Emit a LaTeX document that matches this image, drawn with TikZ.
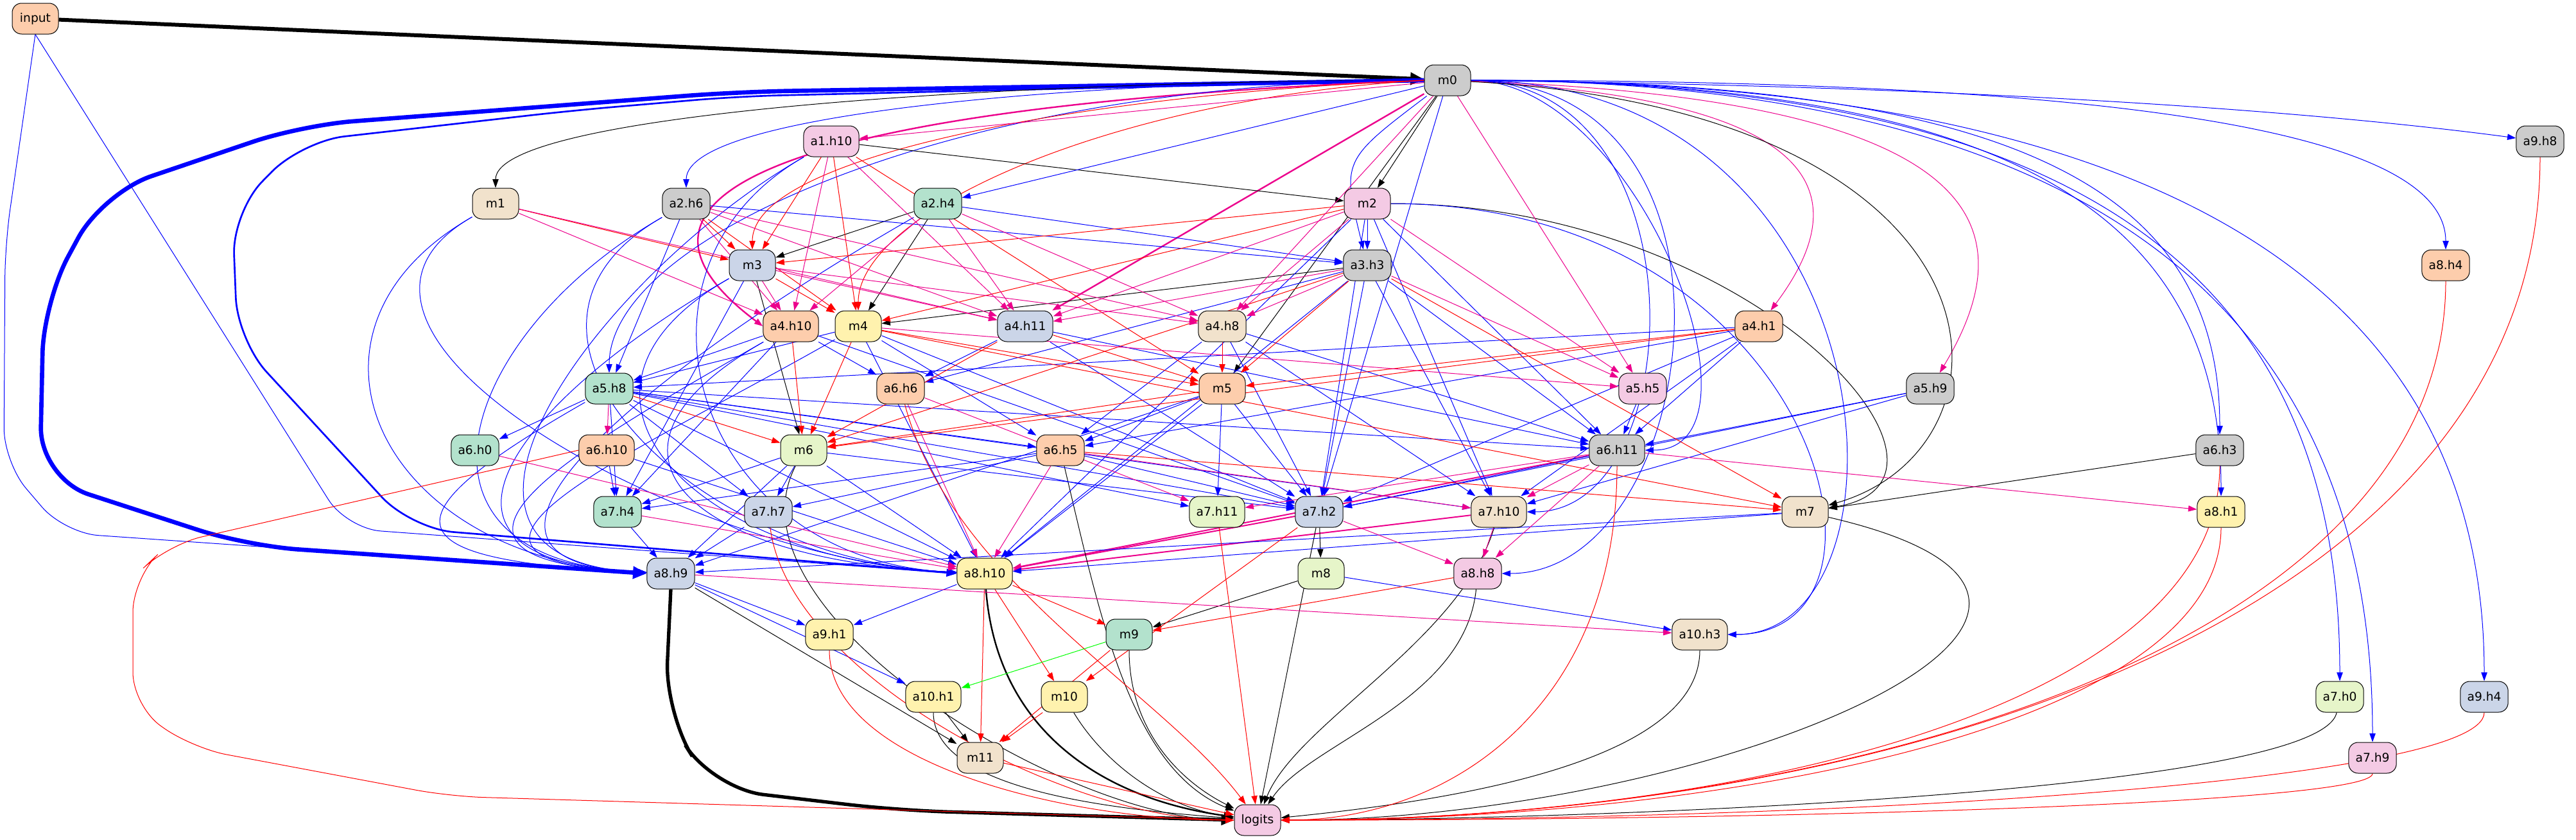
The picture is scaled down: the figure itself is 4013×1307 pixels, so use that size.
\documentclass[tikz,border=0pt]{standalone}
\usepackage{fontspec}
\setmainfont{DejaVu Sans}
\usepackage{xcolor}
\usepackage{tikz}
\usetikzlibrary{arrows.meta, backgrounds}

\definecolor{pgreen}{HTML}{B3E2CD}
\definecolor{ppeach}{HTML}{FDCDAC}
\definecolor{pblue}{HTML}{CBD5E8}
\definecolor{ppink}{HTML}{F4CAE4}
\definecolor{plime}{HTML}{E6F5C9}
\definecolor{pyellow}{HTML}{FFF2AE}
\definecolor{ptan}{HTML}{F1E2CC}
\definecolor{pgrey}{HTML}{CCCCCC}

\begin{document}
\begin{tikzpicture}[
  x=0.75pt, y=-0.75pt,
  hd/.style={rectangle, draw, rounded corners=11pt, minimum width=54pt, minimum height=36pt, inner xsep=8pt, line width=0.75pt, font=\fontsize{14}{16}\selectfont},
  hgreen/.style={hd, fill=pgreen},
  hpeach/.style={hd, fill=ppeach},
  hblue/.style={hd, fill=pblue},
  hpink/.style={hd, fill=ppink},
  hlime/.style={hd, fill=plime},
  hyellow/.style={hd, fill=pyellow},
  htan/.style={hd, fill=ptan},
  hgrey/.style={hd, fill=pgrey},
  arr/.style={-{Triangle[length=10pt,width=7pt]}, line width=0.75pt},
  eK/.style={arr, black},
  eB/.style={arr, blue},
  eR/.style={arr, red},
  eM/.style={arr, magenta},
  eG/.style={arr, green},
]
  \useasboundingbox (0,0) rectangle (4013,1307);

  % Top of the circuit
  \node[hpeach] (input) at (55,29) {input};
  \node[hgrey] (m0) at (2255,125) {m0};
  \node[hpink] (a1h10) at (1295,220) {a1.h10};
  \node[hgrey] (a9h8) at (3957,220) {a9.h8};
  \node[htan] (m1) at (772,317) {m1};
  \node[hgrey] (a2h6) at (1069,317) {a2.h6};
  \node[hgreen] (a2h4) at (1461,317) {a2.h4};
  \node[hpink] (m2) at (2130,317) {m2};
  \node[hblue] (m3) at (1172,413) {m3};
  \node[hgrey] (a3h3) at (2130,413) {a3.h3};
  \node[hpeach] (a8h4) at (3810,413) {a8.h4};

  % Middle layers
  \node[hpeach] (a4h10) at (1232,508) {a4.h10};
  \node[hyellow] (m4) at (1337,508) {m4};
  \node[hblue] (a4h11) at (1597,508) {a4.h11};
  \node[htan] (a4h8) at (1904,508) {a4.h8};
  \node[hpeach] (a4h1) at (2740,508) {a4.h1};
  \node[hgreen] (a5h8) at (949,605) {a5.h8};
  \node[hpeach] (a6h6) at (1403,605) {a6.h6};
  \node[hpeach] (m5) at (1904,605) {m5};
  \node[hpink] (a5h5) at (2559,605) {a5.h5};
  \node[hgrey] (a5h9) at (3007,605) {a5.h9};
  \node[hgreen] (a6h0) at (740,701) {a6.h0};
  \node[hpeach] (a6h10) at (945,701) {a6.h10};
  \node[hlime] (m6) at (1252,701) {m6};
  \node[hpeach] (a6h5) at (1652,701) {a6.h5};
  \node[hgrey] (a6h11) at (2519,701) {a6.h11};
  \node[hgrey] (a6h3) at (3458,701) {a6.h3};
  \node[hgreen] (a7h4) at (962,797) {a7.h4};
  \node[hblue] (a7h7) at (1197,797) {a7.h7};
  \node[hlime] (a7h11) at (1896,797) {a7.h11};
  \node[hblue] (a7h2) at (2055,797) {a7.h2};
  \node[htan] (a7h10) at (2335,797) {a7.h10};
  \node[htan] (m7) at (2812,797) {m7};
  \node[hyellow] (a8h1) at (3460,797) {a8.h1};

  % Late layers
  \node[hblue] (a8h9) at (1045,893) {a8.h9};
  \node[hyellow] (a8h10) at (1534,893) {a8.h10};
  \node[hlime] (m8) at (2058,893) {m8};
  \node[hpink] (a8h8) at (2302,893) {a8.h8};
  \node[hyellow] (a9h1) at (1292,988) {a9.h1};
  \node[hgreen] (m9) at (1759,988) {m9};
  \node[htan] (a10h3) at (2648,988) {a10.h3};
  \node[hyellow] (a10h1) at (1454,1085) {a10.h1};
  \node[hyellow] (m10) at (1658,1085) {m10};
  \node[hlime] (a7h0) at (3645,1085) {a7.h0};
  \node[hblue] (a9h4) at (3870,1085) {a9.h4};
  \node[htan] (m11) at (1527,1180) {m11};
  \node[hpink] (a7h9) at (3696,1180) {a7.h9};
  \node[hpink] (logits) at (1959,1277) {logits};

  \begin{scope}[on background layer]
  % Heavy paths
  \draw[eK, line width=4.5pt, -{Triangle[length=16pt,width=14pt]}] (input) -- (m0);
  \draw[eB, line width=5pt, -{Triangle[length=16pt,width=14pt]}, rounded corners=60pt]
    (m0.west) -- (1150,143) -- (470,195) -- (160,300) -- (68,470) -- (62,745) -- (385,850) -- (a8h9.west);
  \draw[eB, line width=2pt, -{Triangle[length=12pt,width=9pt]}, rounded corners=50pt]
    (m0.west) -- (1150,150) -- (893,172) -- (470,220) -- (362,330) -- (370,530) -- (640,823) -- (a8h10.west);
  \draw[eK, line width=4pt, -{Triangle[length=15pt,width=12pt]}, rounded corners=60pt]
    (a8h9.south) -- (1036,1110) -- (1110,1228) -- (1400,1262) -- (logits.west);
  \draw[eK, line width=1.8pt, -{Triangle[length=12pt,width=9pt]}] (a8h10) .. controls +(20,260) and +(-220,-30) .. (logits);
  \draw[eM, line width=1.8pt] (m0.west) .. controls (1100,170) and (950,330) .. (a4h10.west);
  \draw[eM, line width=1.8pt] (m0) -- (a4h11);
  \foreach \s in {a6h11, a7h10, a7h2} {
    \draw[eM, line width=1.5pt] (\s) -- (a8h10);
  }

  % From input
  \draw[eB, rounded corners=40pt] (input.south) -- (8,380) -- (6,720) -- (100,830) -- (a8h9.west);
  \draw[eB, rounded corners=40pt] (input.south) -- (540,823) -- (a8h10.west);

  % Fan out of m0
  \draw[eK] (m0.west) .. controls +(-600,0) and +(0,-120) .. (m1.north);
  \draw[eB] (m0.west) .. controls +(-500,0) and +(0,-120) .. (a2h6.north);
  \draw[eB] (m0.west) .. controls +(-700,0) and +(0,-220) .. (a5h8.north);
  \draw[eR] (m0.west) .. controls +(-500,20) and +(0,-150) .. (m3.north);
  \draw[eR] (m0.west) .. controls +(-500,30) and +(0,-150) .. (m4.north);
  \draw[eB] (m0) .. controls (2090,250) .. (a3h3);
  \draw[eB] (m0) .. controls +(900,10) and +(-300,-40) .. (a9h8);
  \draw[eM] (m0) .. controls +(600,30) and +(150,-200) .. (a4h1);
  \draw[eM] (m0) .. controls +(850,30) and +(150,-250) .. (a5h9);
  \foreach \t/\dx/\dy in {a8h4/1100/200, a6h3/900/400, a8h1/900/450, a7h0/1000/650, a7h9/1000/700, a9h4/1100/650} {
    \draw[eB] (m0) .. controls +(\dx,0) and +(0,-\dy) .. (\t);
  }
  \foreach \t/\dx/\dd in {a6h11/300/250, a7h10/400/300, a8h8/500/350, a10h3/700/350} {
    \draw[eB] (m0) .. controls +(\dx,0) and +(\dd,0) .. (\t);
  }
  \draw[eK] (m0) .. controls +(900,50) and +(350,-100) .. (m7);
  \draw[eK] (m2) .. controls +(600,0) and +(300,-50) .. (m7);
  \draw[eB] (m2) .. controls +(700,0) and +(350,0) .. (a10h3);

  % Black edges
  \foreach \s/\t in {m0/m2, m0/m5, a1h10/m2, a2h4/m3, a2h4/m4, a3h3/m4, m3/m6, a6h3/m7,
                     a7h2/m8, m8/m9, a10h1/m11, a8h9/m11, a7h2/logits} {
    \draw[eK] (\s) -- (\t);
  }
  \draw[eK] (m6) .. controls +(-130,250) and +(-300,0) .. (logits);
  \draw[eK] (a6h5) .. controls +(60,250) and +(-200,-80) .. (logits);
  \draw[eK] (a7h10) .. controls +(-60,200) and +(60,-150) .. (logits);
  \draw[eK] (m10) .. controls +(60,100) and +(-150,-20) .. (logits);
  \draw[eK] (m9) .. controls +(0,150) and +(-120,-60) .. (logits);
  \draw[eK] (a10h1) .. controls +(0,150) and +(-200,-15) .. (logits);
  \draw[eK] (a8h8) .. controls +(-20,200) and +(80,-120) .. (logits);
  \draw[eK] (a10h3) .. controls +(0,200) and +(300,-30) .. (logits);
  \draw[eK] (a7h0) .. controls +(-30,150) and +(500,0) .. (logits);
  \draw[eK] (m7) .. controls +(650,150) and +(700,0) .. (logits);

  % Blue edges
  \foreach \s/\t in {m0/a2h4, m0/a7h2, m2/a3h3, m2/a6h11, m2/a7h2, m2/a7h10, m2/a8h10,
                     a2h4/a3h3, a2h6/a3h3, a2h6/a5h8, m3/a7h4,
                     a4h10/a5h8, a4h10/a6h6, a4h10/a7h4, a4h10/a7h2,
                     m4/a5h8, m4/a6h5, m4/a7h2, m4/a8h10,
                     a4h11/a6h6, a4h11/a6h11, a4h11/a7h2,
                     a4h8/a6h5, a4h8/a6h11, a4h8/a7h2, a4h8/a7h10,
                     a3h3/a6h6, a3h3/a6h11, a3h3/a7h2, a3h3/a7h10, a3h3/a8h10,
                     a4h1/a5h8, a4h1/a6h5, a4h1/a6h11, a4h1/a7h2, a4h1/a7h10,
                     m5/a6h5, m5/a7h11, m5/a7h2, m5/a8h9, m5/a8h10,
                     a5h5/a6h11, a5h9/a6h11, a5h9/a7h2, a5h9/a7h10,
                     a5h8/a6h0, a5h8/a6h5, a5h8/a7h4, a5h8/a7h7, a5h8/a7h11, a5h8/a7h2,
                     a5h8/a7h10, a5h8/a6h11, a5h8/a8h10,
                     a6h10/a7h4, a6h10/a8h10, m6/a7h4, m6/a7h7, m6/a8h9, m6/a8h10, m6/a7h2,
                     a6h5/a7h4, a6h5/a7h7, a6h5/a7h2, a6h11/a7h2,
                     a7h4/a8h9, a7h7/a8h9, m7/a8h9, m7/a8h10,
                     a8h9/a9h1, a8h9/a10h1, a8h10/a9h1, m8/a10h3} {
    \draw[eB] (\s) -- (\t);
  }
  \foreach \s/\t in {a1h10/a8h9, a1h10/a8h10, m1/a8h9, m1/a8h10, a2h6/a8h9, a2h6/a8h10,
                     m3/a8h9, m3/a8h10, a2h4/a8h9, a4h10/a8h9, a4h10/a8h10, m4/a8h9, a5h8/a8h9} {
    \draw[eB] (\s) .. controls +(-350,200) and +(-450,-20) .. (\t);
  }

  % Red edges
  \foreach \s/\t in {a1h10/m3, a1h10/m4, a1h10/m5, m1/m3, a2h6/m3, a2h6/m4, m2/m3, m2/m4, m3/m4,
                     a4h10/m6, m4/m5, m4/m6, m4/m7, a4h11/m5, a4h11/m6, a4h8/m5,
                     a3h3/m5, a3h3/m6, a3h3/m7, a4h1/m5, a4h1/m6, a5h8/m6, m5/m6, a6h5/m7,
                     a8h10/m9, a8h10/m10, a8h10/m11, a8h8/m9, a7h2/m10, m9/m11, m10/m11,
                     a7h11/logits, m11/logits} {
    \draw[eR] (\s) -- (\t);
  }
  \draw[eR, rounded corners=40pt] (a6h10.west) -- (262,848) -- (207,900) -- (207,1100) -- (300,1165) -- (700,1240) -- (logits.west);
  \draw[eR] (a6h6) .. controls +(80,300) and +(-150,-200) .. (logits);
  \draw[eR] (a7h7) .. controls +(30,250) and +(-300,0) .. (logits);
  \draw[eR] (a9h1) .. controls +(0,200) and +(-300,0) .. (logits);
  \foreach \s/\dy/\dx in {a6h11/400/300, a6h3/400/750, a8h1/330/750, a7h9/70/850, a9h4/130/950, a8h4/600/900, a9h8/740/1000} {
    \draw[eR] (\s) .. controls +(0,\dy) and +(\dx,0) .. (logits);
  }

  % Magenta edges
  \foreach \s/\t in {m0/a1h10, m0/a4h8, m0/a5h5,
                     m1/a4h10, m1/a4h11, a1h10/a4h10, a1h10/a4h11,
                     a2h6/a4h10, a2h6/a4h11, a2h6/a4h8, a2h4/a4h10, a2h4/a4h11, a2h4/a4h8,
                     m3/a4h10, m3/a4h11, m3/a4h8, m2/a4h11, m2/a4h8, m2/a5h5,
                     a3h3/a4h11, a3h3/a4h8, a3h3/a5h5, m4/a5h5, a5h8/a6h10,
                     a6h6/a7h11, a6h6/a8h10, a6h11/a7h11, a6h11/a7h10, a6h11/a8h8, a6h11/a8h1,
                     a6h5/a7h10, a6h5/a8h10, a6h0/a8h10, a7h4/a8h10, a7h2/a8h8, a7h10/a8h8,
                     a8h9/a10h3} {
    \draw[eM] (\s) -- (\t);
  }

  % Green edge
  \draw[eG] (m9) -- (a10h1);
  \end{scope}
\end{tikzpicture}
\end{document}
